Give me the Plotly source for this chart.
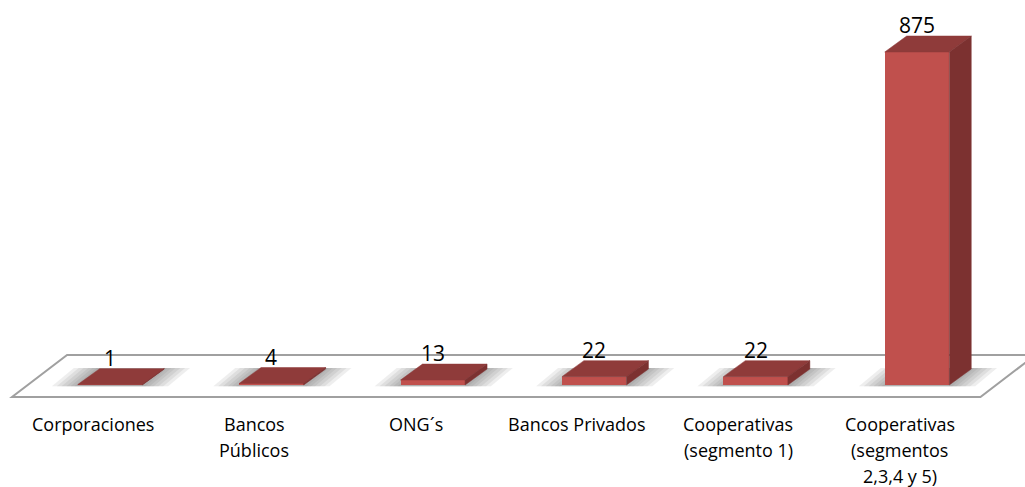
import plotly.graph_objects as go

# ---- data ----
categories = ["Corporaciones", "Bancos<br>Públicos", "ONG´s", "Bancos Privados",
              "Cooperativas<br>(segmento 1)", "Cooperativas<br>(segmentos<br>2,3,4 y 5)"]
values = [1, 4, 13, 22, 22, 875]

# ---- style constants ----
FRONT = "#C0504D"
TOP = "#8F3B3A"
SIDE = "#7C3130"
BAR_W = 0.40          # bar width in category units
DEPTH_X = 0.136       # 3D depth offset (category units)
DEPTH_V = 42.0        # 3D depth offset (value units)
FLOOR_FRONT_DX, FLOOR_FRONT_DV = -0.107, -31.5
FLOOR_BACK_DX, FLOOR_BACK_DV = 0.234, 78.8
FONT = "Open Sans"

n = len(values)
idx = list(range(n))

fig = go.Figure()

# front faces
fig.add_trace(go.Bar(x=idx, y=values, width=BAR_W, marker=dict(color=FRONT, line=dict(width=0)),
                     hoverinfo="skip", showlegend=False))

# top and side faces
for i, v in zip(idx, values):
    l, r = i - BAR_W / 2, i + BAR_W / 2
    fig.add_trace(go.Scatter(
        x=[l, r, r + DEPTH_X, l + DEPTH_X, l], y=[v, v, v + DEPTH_V, v + DEPTH_V, v],
        fill="toself", fillcolor=TOP, mode="lines", line=dict(width=0.5, color=TOP),
        hoverinfo="skip", showlegend=False))
    fig.add_trace(go.Scatter(
        x=[r, r, r + DEPTH_X, r + DEPTH_X, r], y=[0, v, v + DEPTH_V, DEPTH_V, 0],
        fill="toself", fillcolor=SIDE, mode="lines", line=dict(width=0.5, color=SIDE),
        hoverinfo="skip", showlegend=False))

shapes = []
# floor
x0, x1 = -0.5, n - 0.5
floor = (f"M {x0+FLOOR_BACK_DX},{FLOOR_BACK_DV} L {x1+FLOOR_BACK_DX},{FLOOR_BACK_DV} "
         f"L {x1+FLOOR_FRONT_DX},{FLOOR_FRONT_DV} L {x0+FLOOR_FRONT_DX},{FLOOR_FRONT_DV} Z")
shapes.append(dict(type="path", path=floor, xref="x", yref="y", layer="below",
                   fillcolor="white", line=dict(color="#A0A0A0", width=2)))
# soft shadows under bars
for i in idx:
    for e in [0.16, 0.13, 0.10, 0.07, 0.045, 0.02]:
        l, r = i - BAR_W / 2 - e, i + BAR_W / 2 + e
        p = (f"M {l},{-3} L {r},{-3} L {r+DEPTH_X},{DEPTH_V+3} L {l+DEPTH_X},{DEPTH_V+3} Z")
        shapes.append(dict(type="path", path=p, xref="x", yref="y", layer="below",
                           fillcolor="rgba(100,100,100,0.11)", line=dict(width=0)))

annotations = []
# value labels
for i, v in zip(idx, values):
    annotations.append(dict(x=i, y=v + DEPTH_V, xref="x", yref="y", text=str(v),
                            showarrow=False, yanchor="middle", yshift=11,
                            font=dict(family=FONT, size=21, color="black")))
# category labels
for i, c in zip(idx, categories):
    for k, line in enumerate(c.split("<br>")):
        annotations.append(dict(x=i + FLOOR_FRONT_DX, y=FLOOR_FRONT_DV, xref="x", yref="y",
                                text=line, showarrow=False, yanchor="middle",
                                yshift=-(27 + 26 * k), borderpad=0,
                                font=dict(family=FONT, size=18, color="black")))

fig.update_layout(
    width=1025, height=487, margin=dict(l=0, r=0, t=0, b=0),
    paper_bgcolor="white", plot_bgcolor="white",
    xaxis=dict(range=[-0.6815, 5.669], visible=False, fixedrange=True),
    yaxis=dict(range=[-268, 1011.6], visible=False, fixedrange=True),
    shapes=shapes, annotations=annotations, bargap=0, showlegend=False,
)

fig.write_html("out.html")
